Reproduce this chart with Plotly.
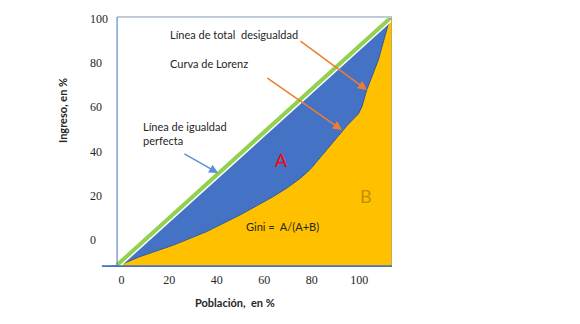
import plotly.graph_objects as go

# Lorenz curve (población acumulada %, ingreso acumulado %)
poblacion = [-1.9, 7.7, 21.8, 35.8, 49.8, 63.8, 69.6, 75.1, 79.3, 83.5, 87.7, 94.7, 99.6, 101.1, 103.1, 105.9, 108.0, 112.9]
ingreso = [-11.8, -7.5, -2.3, 3.8, 11.3, 19.6, 23.5, 27.8, 31.8, 37.3, 42.7, 51.5, 56.9, 60.2, 67.7, 75.3, 81.3, 100.2]

# Línea de igualdad perfecta
igualdad_x = [-1.9, 112.6]
igualdad_y = [-11.3, 99.8]

x_ticks = [0, 20, 40, 60, 80, 100]
y_ticks = [0, 20, 40, 60, 80, 100]

X_MIN, X_MAX = -14.56, 113.75
Y_MIN, Y_MAX = -12.19, 106.09
Y_BOX = 100.68
X_BOX = -1.9
X_TAIL = -7.8

BLUE = "#4472C4"
GOLD = "#FFC000"
GREEN = "#92D050"
ORANGE = "#ED7D31"
TXT = "#262626"

fig = go.Figure()

# Área A (azul)
blue_x = [X_TAIL, igualdad_x[0], igualdad_x[1], poblacion[-1]] + poblacion[::-1][1:] + [X_TAIL]
blue_y = [-12.0, igualdad_y[0], igualdad_y[1], ingreso[-1]] + ingreso[::-1][1:] + [-12.0]
fig.add_trace(go.Scatter(x=blue_x, y=blue_y, fill="toself", fillcolor=BLUE,
                         mode="lines", line=dict(width=0), hoverinfo="skip", showlegend=False))

# Área B (amarilla)
gold_x = [poblacion[0]] + poblacion + [X_MAX, X_MAX, poblacion[0]]
gold_y = [-12.0] + ingreso + [ingreso[-1], -12.0, -12.0]
fig.add_trace(go.Scatter(x=gold_x, y=gold_y, fill="toself", fillcolor=GOLD,
                         mode="lines", line=dict(width=0), hoverinfo="skip", showlegend=False))

# Curva de Lorenz (contorno)
fig.add_trace(go.Scatter(x=poblacion, y=ingreso, mode="lines",
                         line=dict(color="#2F5597", width=1), hoverinfo="skip", showlegend=False))

# Línea de igualdad con borde blanco
fig.add_trace(go.Scatter(x=igualdad_x, y=igualdad_y, mode="lines",
                         line=dict(color="white", width=7), hoverinfo="skip", showlegend=False))
fig.add_trace(go.Scatter(x=igualdad_x, y=igualdad_y, mode="lines",
                         line=dict(color=GREEN, width=4), hoverinfo="skip", showlegend=False))

# Marco
fig.add_shape(type="line", x0=X_BOX, x1=X_BOX, y0=Y_MIN, y1=Y_BOX, line=dict(color=BLUE, width=1))
fig.add_shape(type="line", x0=X_BOX, x1=X_MAX, y0=Y_BOX, y1=Y_BOX, line=dict(color="#8497B0", width=1))
fig.add_shape(type="line", x0=X_MAX, x1=X_MAX, y0=Y_MIN, y1=Y_BOX, line=dict(color="#8497B0", width=1))
fig.add_shape(type="line", x0=X_TAIL - 0.5, x1=X_MAX, y0=-11.8, y1=-11.8, line=dict(color=BLUE, width=2))

font = "Lato, 'Open Sans', sans-serif"
ann = []
ann.append(dict(x=X_BOX + 21.4, y=93.0, text="Línea de total  desigualdad", xanchor="left",
                showarrow=False, font=dict(family=font, size=11, color=TXT)))
ann.append(dict(x=X_BOX + 21.4, y=79.5, text="Curva de Lorenz", xanchor="left",
                showarrow=False, font=dict(family=font, size=11, color=TXT)))
ann.append(dict(x=8.2, y=47.9, text="Línea de igualdad<br>perfecta", xanchor="left", align="left",
                showarrow=False, font=dict(family=font, size=11, color=TXT)))
ann.append(dict(x=67.1, y=36.1, text="A", showarrow=False,
                font=dict(family=font, size=18, color="#FF0000")))
ann.append(dict(x=102.8, y=19.9, text="B", showarrow=False,
                font=dict(family=font, size=18, color="#BF9000")))
ann.append(dict(x=51.5, y=6.0, text="Gini =  A/(A+B)", xanchor="left", showarrow=False,
                font=dict(family=font, size=11, color=TXT)))
# Flechas
for (hx, hy, tx, ty, col) in [(103.2, 67.7, 74.6, 90.3, ORANGE),
                              (92.7, 49.7, 60.7, 73.6, ORANGE),
                              (40.6, 30.2, 25.8, 39.3, "#5B8FD6")]:
    ann.append(dict(x=hx, y=hy, ax=tx, ay=ty, axref="x", ayref="y", xref="x", yref="y",
                    text="", showarrow=True, arrowhead=2, arrowsize=1.2, arrowwidth=1.5,
                    arrowcolor=col))
# Títulos de ejes
ann.append(dict(xref="paper", yref="paper", x=0.485, y=-0.1374, xanchor="center", yanchor="middle",
                text="<b>Población,  en %</b>",
                showarrow=False, font=dict(family=font, size=11, color=TXT)))
ann.append(dict(xref="paper", yref="paper", x=-0.082, y=0.599, xanchor="center", yanchor="middle",
                text="<b>Ingreso, en %</b>",
                textangle=-90, showarrow=False, font=dict(family=font, size=11, color=TXT)))

fig.update_layout(
    width=580, height=324,
    margin=dict(l=87, r=188, t=5, b=57),
    paper_bgcolor="white", plot_bgcolor="white",
    showlegend=False,
    annotations=ann,
    xaxis=dict(range=[X_MIN, X_MAX], tickvals=x_ticks, ticktext=[str(v) for v in x_ticks],
               showgrid=False, zeroline=False, showline=False, ticks="",
               ticklabelstandoff=4,
               tickfont=dict(family="'Liberation Serif', serif", size=12, color=TXT)),
    yaxis=dict(range=[Y_MIN, Y_MAX], tickvals=y_ticks, ticktext=[str(v) for v in y_ticks],
               showgrid=False, zeroline=False, showline=False, ticks="",
               ticklabelposition="inside",
               tickfont=dict(family="'Liberation Serif', serif", size=12, color=TXT)),
)

fig.write_html("out.html")
